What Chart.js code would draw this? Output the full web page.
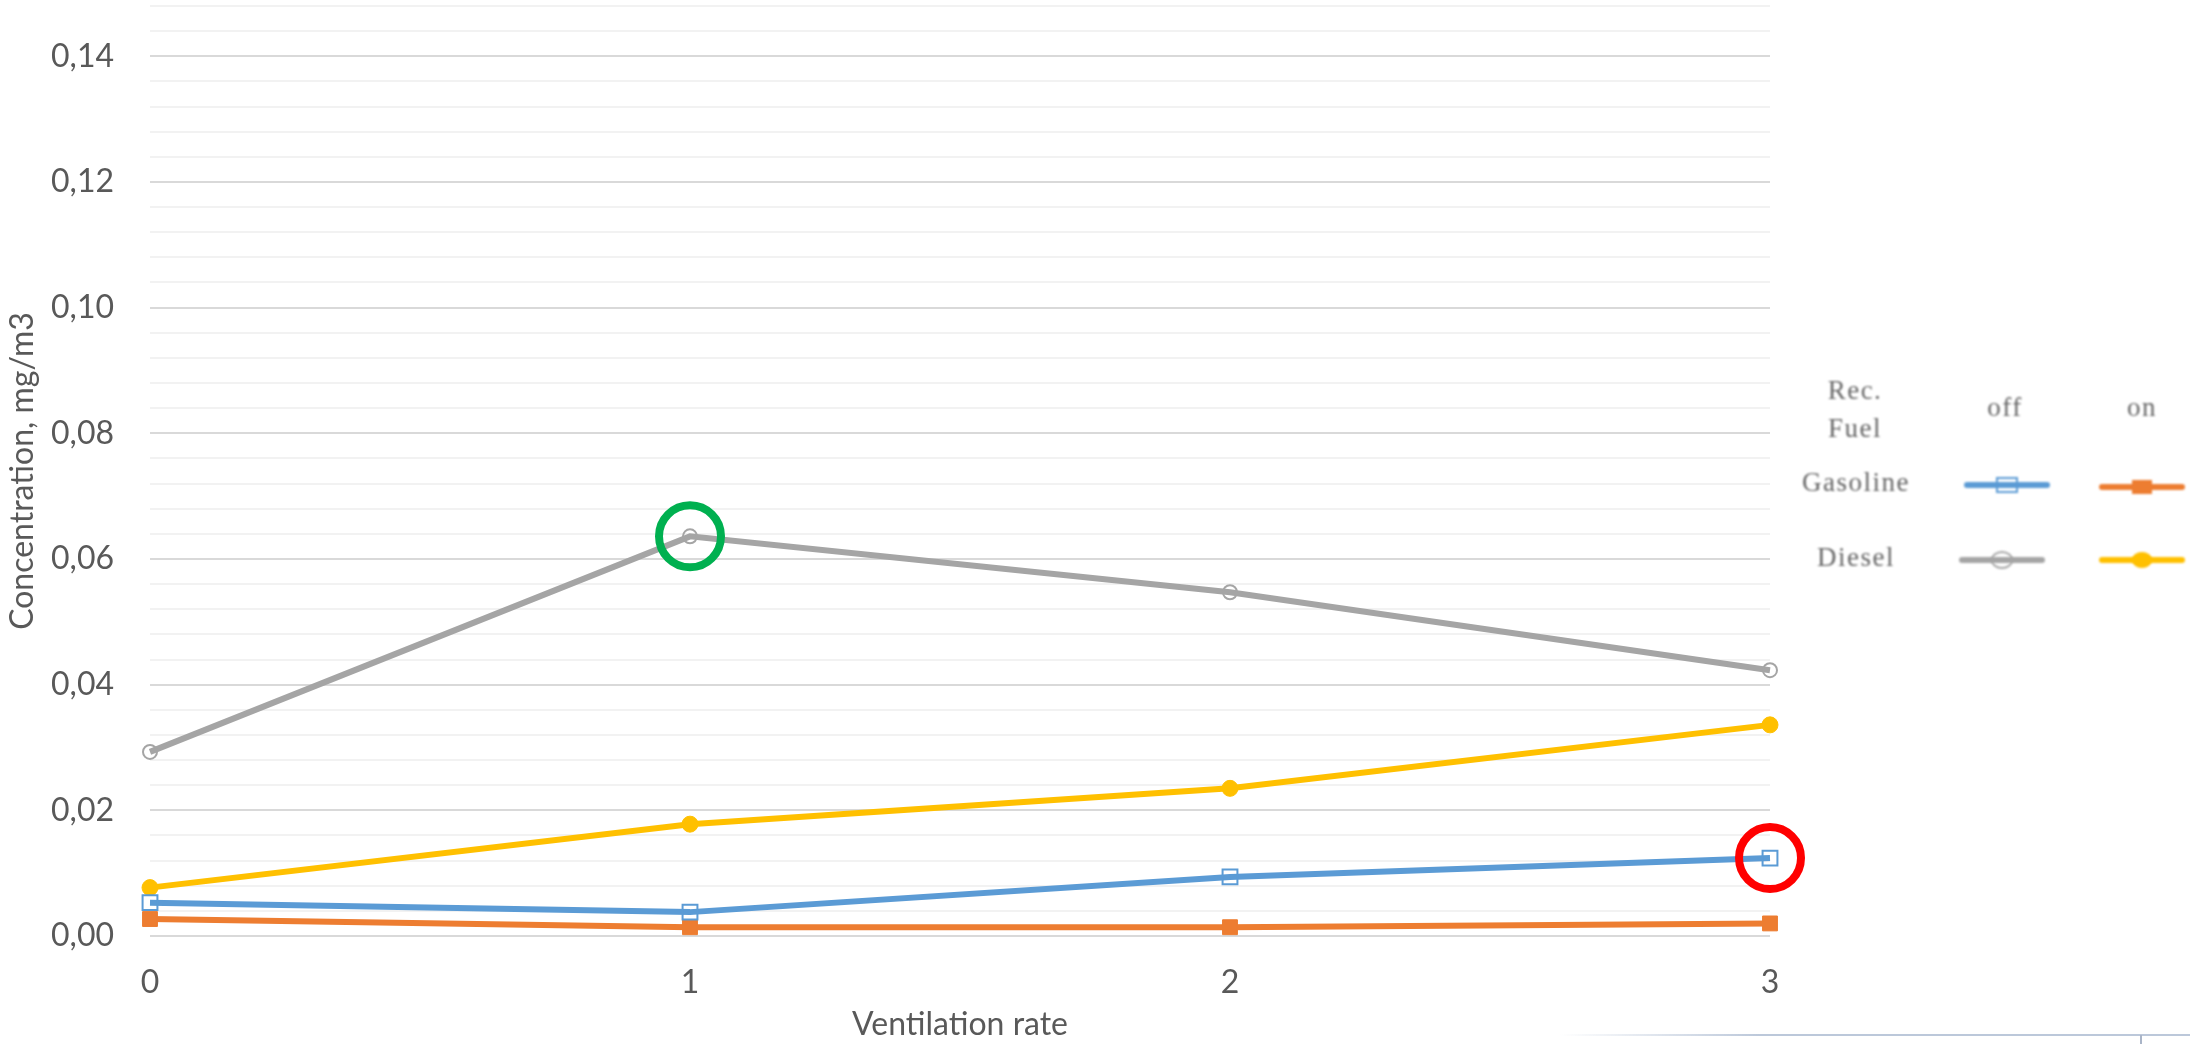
<!DOCTYPE html>
<html>
<head>
<meta charset="utf-8">
<title>Concentration vs ventilation rate</title>
<script src="https://cdn.jsdelivr.net/npm/chart.js@4.4.1/dist/chart.umd.min.js"></script>
<style>
  html, body { margin: 0; padding: 0; background: #fff; }
  #wrap { width: 2190px; height: 1044px; }
</style>
</head>
<body>
<div id="wrap"><canvas id="chart" width="2190" height="1044"></canvas></div>
<script>
// ventilation rate steps on the x axis
const ventilation = [0, 1, 2, 3];

// concentration, mg/m3
const gasolineOff = [0.0053, 0.0038, 0.0094, 0.0124];
const gasolineOn  = [0.0027, 0.0014, 0.0014, 0.0020];
const dieselOff   = [0.0293, 0.0636, 0.0547, 0.0423];
const dieselOn    = [0.0077, 0.0178, 0.0235, 0.0336];

// y axis: labelled every 0.02, light grid every 0.004
const yMax = 0.148;
const yMinorStep = 0.004;
const yMajorStep = 0.02;

// legend table text
const legendCorner = ['Rec.', 'Fuel'];
const legendCols = ['off', 'on'];
const legendRows = ['Gasoline', 'Diesel'];

// points that get a ring drawn around them (dataset index, point index)
const ringed = [
  { series: 2, index: 1, color: '#00B050' },
  { series: 0, index: 3, color: '#FF0000' },
];

const textColor = '#595959';
const tickFont = { family: 'Lato', size: 32 };

const toXY = arr => ventilation.map((v, i) => ({ x: v, y: arr[i] }));

function isMajor(v) {
  return Math.round(v * 1000) % Math.round(yMajorStep * 1000) === 0;
}

// legend table + rings + the thin rule at the bottom right
const extras = {
  id: 'extras',
  afterDatasetsDraw(chart) {
    const ctx = chart.ctx;

    ctx.save();
    ringed.forEach(r => {
      const el = chart.getDatasetMeta(r.series).data[r.index];
      ctx.beginPath();
      ctx.arc(el.x, el.y, 31, 0, Math.PI * 2);
      ctx.lineWidth = 8;
      ctx.strokeStyle = r.color;
      ctx.stroke();
    });
    ctx.restore();

    ctx.save();
    ctx.filter = 'blur(0.8px)';
    ctx.fillStyle = '#666';
    ctx.font = '27px "Liberation Serif"';
    ctx.letterSpacing = '1.5px';
    ctx.textAlign = 'center';
    ctx.textBaseline = 'middle';
    ctx.fillText(legendCorner[0], 1855, 392);
    ctx.fillText(legendCorner[1], 1855, 430);
    ctx.fillText(legendCols[0], 2005, 409);
    ctx.fillText(legendCols[1], 2142, 409);
    ctx.fillText(legendRows[0], 1856, 484);
    ctx.fillText(legendRows[1], 1856, 559);

    const sample = (x1, x2, y, ds) => {
      ctx.beginPath();
      ctx.moveTo(x1, y);
      ctx.lineTo(x2, y);
      ctx.lineCap = 'round';
      ctx.lineWidth = 6;
      ctx.strokeStyle = ds.borderColor;
      ctx.stroke();
      const cx = (x1 + x2) / 2;
      ctx.lineWidth = 2;
      ctx.beginPath();
      if (ds.pointStyle === 'rect') {
        ctx.rect(cx - 10, y - 7, 20, 14);
      } else {
        ctx.ellipse(cx, y, 10, 8, 0, 0, Math.PI * 2);
      }
      if (ds.pointBackgroundColor !== 'transparent') {
        ctx.fillStyle = ds.pointBackgroundColor;
        ctx.fill();
      } else {
        ctx.strokeStyle = ds.pointBorderColor;
        ctx.stroke();
      }
    };
    const sets = chart.data.datasets;
    sample(1967, 2047, 485, sets[0]);
    sample(2102, 2182, 487, sets[1]);
    sample(1962, 2042, 560, sets[2]);
    sample(2102, 2182, 560, sets[3]);
    ctx.restore();

    ctx.save();
    const g = ctx.createLinearGradient(1560, 0, 1760, 0);
    g.addColorStop(0, 'rgba(188,200,218,0)');
    g.addColorStop(1, 'rgba(188,200,218,1)');
    ctx.strokeStyle = g;
    ctx.lineWidth = 2;
    ctx.beginPath();
    ctx.moveTo(1560, 1035);
    ctx.lineTo(2190, 1035);
    ctx.stroke();
    ctx.strokeStyle = '#aab5c8';
    ctx.beginPath();
    ctx.moveTo(2141, 1035);
    ctx.lineTo(2141, 1044);
    ctx.stroke();
    ctx.restore();
  }
};

function series(data, color, style, filled, radius) {
  return {
    data: toXY(data),
    borderColor: color,
    backgroundColor: color,
    borderWidth: 6,
    pointStyle: style,
    pointRadius: radius,
    pointHoverRadius: radius,
    pointBorderColor: color,
    pointBackgroundColor: filled ? color : 'transparent',
    pointBorderWidth: filled ? 1 : 2,
    tension: 0,
    clip: false,
  };
}

new Chart(document.getElementById('chart'), {
  type: 'line',
  data: {
    datasets: [
      series(gasolineOff, '#5B9BD5', 'rect', false, 10.5),
      series(gasolineOn, '#ED7D31', 'rect', true, 10.5),
      series(dieselOff, '#A5A5A5', 'circle', false, 7),
      series(dieselOn, '#FFC000', 'circle', true, 8),
    ]
  },
  options: {
    responsive: false,
    animation: false,
    events: [],
    layout: {
      autoPadding: false,
      padding: { top: 6, right: 420, left: 0, bottom: 0 },
    },
    plugins: {
      legend: { display: false },
      tooltip: { enabled: false },
    },
    scales: {
      x: {
        type: 'linear',
        min: 0,
        max: 3,
        grid: { display: false },
        border: { display: false },
        ticks: { stepSize: 1, color: textColor, font: tickFont, padding: 19 },
        title: {
          display: true,
          text: 'Ventilation rate',
          color: textColor,
          font: tickFont,
          padding: { top: 0, bottom: 0 },
        },
        afterFit(scale) {
          scale.height = 108;
          scale.paddingLeft = 0;
          scale.paddingRight = 0;
        },
      },
      y: {
        min: 0,
        max: yMax,
        border: { display: false },
        grid: {
          drawTicks: false,
          lineWidth: 2,
          color: c => isMajor(c.tick.value) ? '#D9D9D9' : '#F2F2F2',
        },
        ticks: {
          stepSize: yMinorStep,
          autoSkip: false,
          padding: 36,
          color: textColor,
          font: tickFont,
          callback: v => isMajor(v) ? v.toFixed(2).replace('.', ',') : '',
        },
        title: {
          display: true,
          text: 'Concentration, mg/m3',
          color: textColor,
          font: tickFont,
          padding: { top: 3, bottom: 0 },
        },
        afterFit(scale) {
          scale.width = 150;
          scale.paddingTop = 0;
          scale.paddingBottom = 0;
        },
      }
    }
  },
  plugins: [extras]
});
</script>
</body>
</html>
